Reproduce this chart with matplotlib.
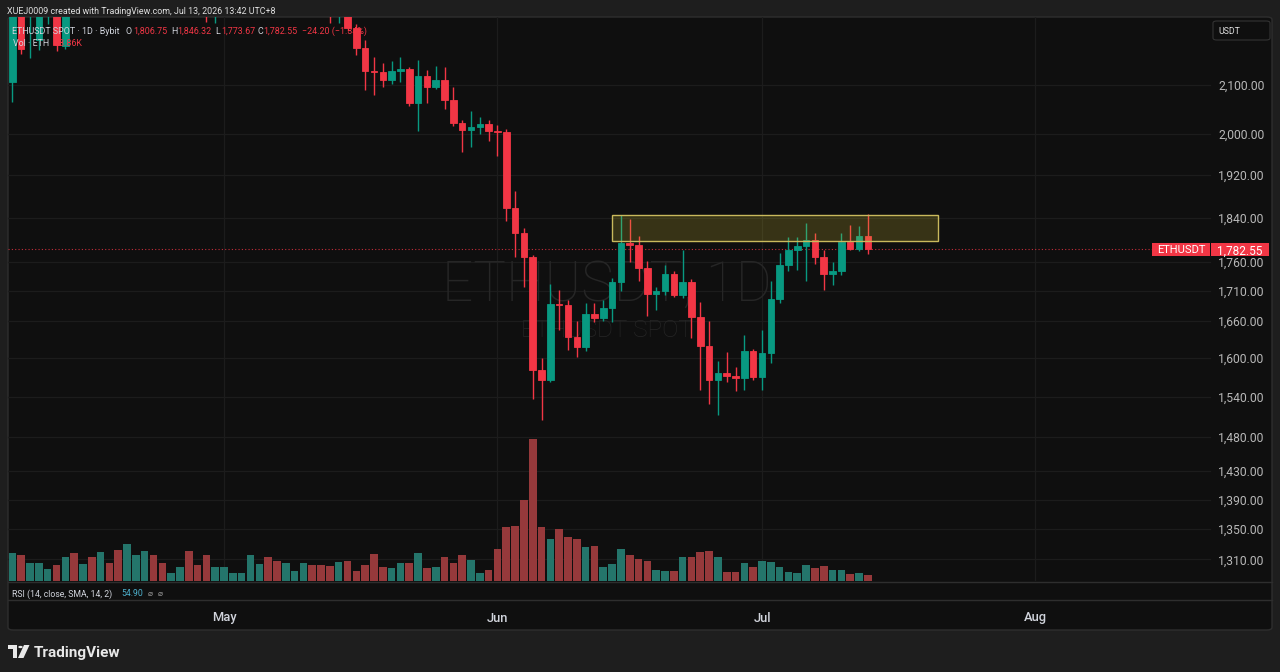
# ETHUSDT spot, daily candles (Bybit) in a TradingView dark-theme look
#%% Import libs
import numpy as np
import pandas as pd
import matplotlib
matplotlib.use("Agg")
import matplotlib.pyplot as plt
import matplotlib.dates as mdates
import matplotlib.transforms as mtransforms
from matplotlib.ticker import FixedLocator, FuncFormatter, NullLocator
from matplotlib.patches import Rectangle, FancyBboxPatch, Circle, Polygon

plt.rcParams['font.family'] = ['Roboto', 'DejaVu Sans']

#%% Data: daily candles 2026-04-07 .. 2026-07-13 (values above ~2245 are off-screen)
start_date = "2026-04-07"
opens = [2105, 2275, 2255, 2196, 2270, 2285, 2183, 2270, 2262, 2318, 2285, 2356,
         2338, 2290, 2385, 2405, 2445, 2398, 2365, 2375, 2390, 2300, 2285, 2262,
         # May
         2280, 2298, 2305, 2312, 2380, 2398, 2345, 2318, 2342, 2348, 2362, 2325,
         2295, 2262, 2268, 2222, 2178, 2128, 2127, 2109, 2128, 2133, 2062, 2117,
         2095, 2110, 2068, 2022, 2007, 2013, 2020,
         # Jun
         2005, 2003, 1857, 1812, 1769, 1581, 1566, 1689, 1686, 1634, 1618, 1671,
         1665, 1681, 1726, 1794, 1790, 1750, 1706, 1710, 1740, 1704, 1725, 1666,
         1619, 1565, 1577, 1572, 1569, 1611,
         # Jul
         1570, 1608, 1697, 1756, 1781, 1788, 1800, 1770, 1740, 1744, 1796, 1784,
         1806.75]
highs = [2290, 2290, 2290, 2300, 2300, 2295, 2285, 2290, 2330, 2335, 2370, 2365,
         2348, 2400, 2420, 2460, 2455, 2410, 2385, 2400, 2395, 2315, 2295, 2290,
         2305, 2310, 2318, 2395, 2410, 2405, 2360, 2350, 2352, 2370, 2368, 2335,
         2300, 2280, 2275, 2230, 2196, 2158, 2145, 2149, 2158, 2137, 2151, 2131,
         2140, 2137, 2095, 2028, 2045, 2033, 2028,
         2018, 2010, 1890, 1821, 1773, 1600, 1722, 1712, 1695, 1660, 1690, 1690,
         1695, 1732, 1844, 1838, 1806, 1763, 1718, 1755, 1745, 1781, 1731, 1691,
         1660, 1595, 1609, 1586, 1637, 1614,
         1646, 1728, 1777, 1805, 1805, 1830, 1812, 1782, 1760, 1812, 1827, 1825,
         1846.32]
lows = [2063, 2165, 2156, 2174, 2230, 2172, 2176, 2255, 2256, 2270, 2280, 2320,
        2270, 2285, 2370, 2395, 2380, 2350, 2360, 2365, 2280, 2270, 2235, 2232,
        2268, 2290, 2296, 2305, 2370, 2330, 2300, 2305, 2335, 2338, 2310, 2285,
        2232, 2232, 2215, 2162, 2089, 2078, 2094, 2102, 2106, 2055, 2005, 2062,
        2090, 2050, 2016, 1964, 1974, 2000, 1985,
        1956, 1834, 1769, 1717, 1537, 1505, 1562, 1645, 1613, 1602, 1612, 1658,
        1660, 1658, 1710, 1760, 1727, 1669, 1678, 1703, 1700, 1698, 1632, 1550,
        1528, 1512, 1562, 1549, 1550, 1566,
        1550, 1592, 1690, 1745, 1746, 1727, 1757, 1712, 1720, 1738, 1782, 1780,
        1773.67]
closes = [2275, 2176, 2265, 2270, 2285, 2185, 2270, 2262, 2318, 2285, 2356, 2338,
          2290, 2385, 2405, 2445, 2398, 2365, 2375, 2390, 2300, 2285, 2262, 2280,
          2298, 2305, 2312, 2380, 2398, 2345, 2318, 2342, 2348, 2362, 2325, 2295,
          2262, 2268, 2222, 2178, 2128, 2127, 2109, 2128, 2133, 2062, 2117, 2095,
          2110, 2068, 2022, 2007, 2013, 2020, 2005,
          2003, 1857, 1812, 1769, 1581, 1566, 1689, 1686, 1634, 1618, 1671, 1665,
          1681, 1726, 1794, 1790, 1750, 1706, 1710, 1740, 1704, 1725, 1666, 1619,
          1565, 1577, 1572, 1569, 1611, 1570,
          1608, 1697, 1756, 1781, 1788, 1800, 1770, 1740, 1744, 1796, 1784, 1806.75,
          1782.55]
# volume in thousand ETH
volumes_k = [126.9, 119.1, 83.8, 81.1, 56.3, 71.9, 111.3, 126.9, 77.9, 111.3, 132.8, 81.1,
             142.0, 168.1, 117.7, 138.8, 119.1, 83.8, 35.3, 65.5, 136.0, 71.9, 119.1, 62.7,
             65.5, 35.3, 38.0, 119.1, 77.9, 108.5, 90.2, 81.1, 44.4, 83.8, 74.7, 71.9,
             68.7, 87.0, 90.2, 45.8, 74.7, 122.3, 62.7, 59.5, 81.1, 83.8, 126.9, 59.5,
             65.5, 108.5, 81.1, 117.7, 97.6, 35.3, 51.8,
             147.9, 247.3, 250.5, 371.0, 649.0, 247.3, 193.7, 239.5, 201.5, 193.7, 155.7, 160.3,
             65.5, 79.2, 145.2, 120.5, 100.8, 91.6, 49.0, 45.8, 45.8, 111.3, 111.3, 131.4,
             138.8, 109.9, 42.6, 42.6, 83.8, 64.1,
             91.6, 87.0, 62.7, 42.6, 35.3, 71.9, 58.2, 68.7, 49.0, 51.8, 33.4, 36.6,
             28.86]

price_ticks = [2100, 2000, 1920, 1840, 1760, 1710, 1660, 1600, 1540, 1480, 1430, 1390, 1350, 1310]
month_starts = ["2026-05-01", "2026-06-01", "2026-07-01", "2026-08-01"]
month_labels = ["May", "Jun", "Jul", "Aug"]

# resistance zone drawn on the chart
zone_start, zone_end = "2026-06-14", "2026-07-21"
zone_low, zone_high = 1798, 1844

#%% Colors
UP, DOWN = "#089981", "#f23645"
VOL_UP, VOL_DOWN = "#24756b", "#96393b"
BG, OUTER, BORDER, GRID = "#0f0f0f", "#1e1e1e", "#2e2e2e", "#1c1c1c"
TXT = "#d1d4dc"

dates = mdates.date2num(pd.date_range(start_date, periods=len(closes), freq="D"))
o, h, l, c = map(np.array, (opens, highs, lows, closes))
vol = np.array(volumes_k)
up = c >= o

W, H = 1280, 672
def fx(px): return px / W
def fy(py): return 1 - py / H
def rect(x0, y0, x1, y1): return [fx(x0), fy(y1), fx(x1) - fx(x0), fy(y0) - fy(y1)]

#%% Figure and panels
fig = plt.figure(figsize=(12.8, 6.72), dpi=100, facecolor=OUTER)
fig.patches.append(FancyBboxPatch((fx(8), fy(630)), fx(1272) - fx(8), fy(17) - fy(630),
                                  boxstyle="round,pad=0,rounding_size=0.004",
                                  transform=fig.transFigure, facecolor=BG,
                                  edgecolor=BORDER, lw=1, zorder=-5))

ax_vol = fig.add_axes(rect(8, 17, 1210, 581), facecolor=BG)
ax = fig.add_axes(rect(8, 17, 1210, 581), sharex=ax_vol)
ax.patch.set_visible(False)
ax_t = fig.add_axes(rect(8, 600, 1210, 630), sharex=ax_vol)
ax_t.patch.set_visible(False)

x0 = mdates.date2num(pd.Timestamp("2026-05-01"))
ax_vol.set_xlim(x0 - 24.5, x0 + 111.8)

#%% Volume (overlay at the bottom)
ax_vol.bar(dates, vol, width=0.86, color=np.where(up, VOL_UP, VOL_DOWN), lw=0, zorder=2)
ax_vol.set_ylim(0, vol.max() / 0.2512)
ax_vol.axis("off")

#%% Candles
ax.set_yscale("log")
ax.set_ylim(1282, 2246)
colors = np.where(up, UP, DOWN)
ax.vlines(dates, l, h, colors=colors, lw=1.0, zorder=3)
ax.bar(dates, np.abs(c - o), bottom=np.minimum(o, c), width=0.74,
       color=colors, edgecolor=colors, lw=0.6, zorder=4)

# grid lines live on the volume axes so the bars sit on top of them
tr = mtransforms.blended_transform_factory(ax_vol.transAxes, ax.transData)
for p in price_ticks:
    ax_vol.plot([0, 1], [p, p], transform=tr, color=GRID, lw=0.9, zorder=1, clip_on=False)
for m in month_starts:
    ax_vol.axvline(mdates.date2num(pd.Timestamp(m)), color=GRID, lw=0.9, zorder=1)

# resistance zone
zs = mdates.date2num(pd.Timestamp(zone_start))
ze = mdates.date2num(pd.Timestamp(zone_end))
ax.add_patch(Rectangle((zs, zone_low), ze - zs, zone_high - zone_low,
                       facecolor=(0.85, 0.78, 0.2, 0.2), edgecolor="#c9b95c", lw=1.0, zorder=5))

# last price line
last = c[-1]
ax.axhline(last, color=DOWN, lw=0.8, ls=(0, (1, 2)), alpha=0.8, zorder=2)

# price scale on the right
ax.yaxis.tick_right()
ax.yaxis.set_major_locator(FixedLocator(price_ticks))
ax.yaxis.set_minor_locator(NullLocator())
ax.yaxis.set_major_formatter(FuncFormatter(lambda v, _: f"{v:,.2f}"))
ax.tick_params(axis="y", length=0, pad=6, labelsize=8.7, labelcolor="#b8b8b8")
ax.tick_params(axis="x", length=0, labelbottom=False)
for s in ax.spines.values():
    s.set_visible(False)

# last price tags (placed at the y pixel of the last close)
yl = ax.transData.transform((dates[-1], last))[1] / H
for xa, xb, s, fs in [(1152, 1210, "ETHUSDT", 8), (1211, 1269, f"{last:,.2f}", 8.5)]:
    fig.patches.append(Rectangle((fx(xa), yl - 6.5 / H), fx(xb) - fx(xa), 13 / H,
                                 transform=fig.transFigure, fc=DOWN, ec="none", zorder=5))
    fig.text(fx((xa + xb) / 2), yl, s, color="white", fontsize=fs, ha="center", va="center_baseline",
             zorder=6)

# watermark
ax.text(0.498, 0.525, "ETHUSDT, 1D", transform=ax.transAxes, ha="center", va="center",
        fontsize=39.5, color="#262626", fontweight="light", zorder=0)
ax.text(0.498, 0.445, "ETHUSDT SPOT", transform=ax.transAxes, ha="center", va="center",
        fontsize=17.5, color="#262626", fontweight="light", zorder=0)

#%% Time axis
for m, lab in zip(month_starts, month_labels):
    ax_t.text(mdates.date2num(pd.Timestamp(m)), 0.4, lab, ha="center", va="center",
              color=TXT, fontsize=9.3, fontweight="medium",
              transform=mtransforms.blended_transform_factory(ax_t.transData, ax_t.transAxes))
ax_t.axis("off")

# pane separators
for yy in (581.5, 600):
    fig.add_artist(plt.Line2D([fx(8), fx(1272)], [fy(yy), fy(yy)], color=BORDER, lw=1))

#%% Header texts
fig.text(fx(7), fy(11), "XUEJ0009 created with TradingView.com, Jul 13, 2026 13:42 UTC+8",
         color="#e0e0e0", fontsize=6.4, va="center_baseline")
legend = [(12.5, "ETHUSDT SPOT · 1D · Bybit", TXT), (126, "O", TXT), (133, "1,806.75", DOWN),
          (171, "H", TXT), (177, "1,846.32", DOWN), (215.5, "L", TXT), (221, "1,773.67", DOWN),
          (258, "C", TXT), (263, "1,782.55", DOWN), (302, "−24.20 (−1.34%)", DOWN)]
for px, s, col in legend:
    fig.text(fx(px), fy(30), s, color=col, fontsize=6.4, va="center_baseline")
fig.text(fx(13), fy(42), "Vol · ETH", color=TXT, fontsize=6.4, va="center_baseline")
fig.text(fx(55), fy(42), "28.86K", color=DOWN, fontsize=6.4, va="center_baseline")

fig.text(fx(12.5), fy(593), "RSI (14, close, SMA, 14, 2)", color=TXT, fontsize=6.3, va="center_baseline")
fig.text(fx(121), fy(593), "54.90", color="#4db0cc", fontsize=6.3, va="center_baseline")
fig.text(fx(148), fy(593), "⌀", color="#9a9a9a", fontsize=6.0, va="center_baseline")
fig.text(fx(158), fy(593), "⌀", color="#9a9a9a", fontsize=6.0, va="center_baseline")

# currency box
fig.patches.append(FancyBboxPatch((fx(1213), fy(40)), fx(1270) - fx(1213), fy(21) - fy(40),
                                  boxstyle="round,pad=0,rounding_size=0.003",
                                  transform=fig.transFigure, facecolor=BG, edgecolor="#333333", lw=0.8))
fig.text(fx(1218), fy(30.5), "USDT", color="#e0e0e0", fontsize=6.3, va="center_baseline")

#%% TradingView logo
def pts(lst): return [(fx(a), fy(b)) for a, b in lst]
logo_col = "#e8e8e8"
fig.patches.append(Polygon(pts([(8, 645), (17, 645), (17, 658), (12.5, 658), (12.5, 649), (8, 649)]),
                           closed=True, transform=fig.transFigure, fc=logo_col, ec="none"))
fig.patches.append(Circle((fx(20.5), fy(647)), 2.2 / W, transform=fig.transFigure, fc=logo_col, ec="none"))
fig.patches.append(Polygon(pts([(24, 645), (29.5, 645), (23.5, 658), (18, 658)]),
                           closed=True, transform=fig.transFigure, fc=logo_col, ec="none"))
fig.text(fx(34), fy(651), "TradingView", color=logo_col, fontsize=11, fontweight="bold", va="center_baseline")

fig.savefig("out.png", dpi=100, facecolor=OUTER)
